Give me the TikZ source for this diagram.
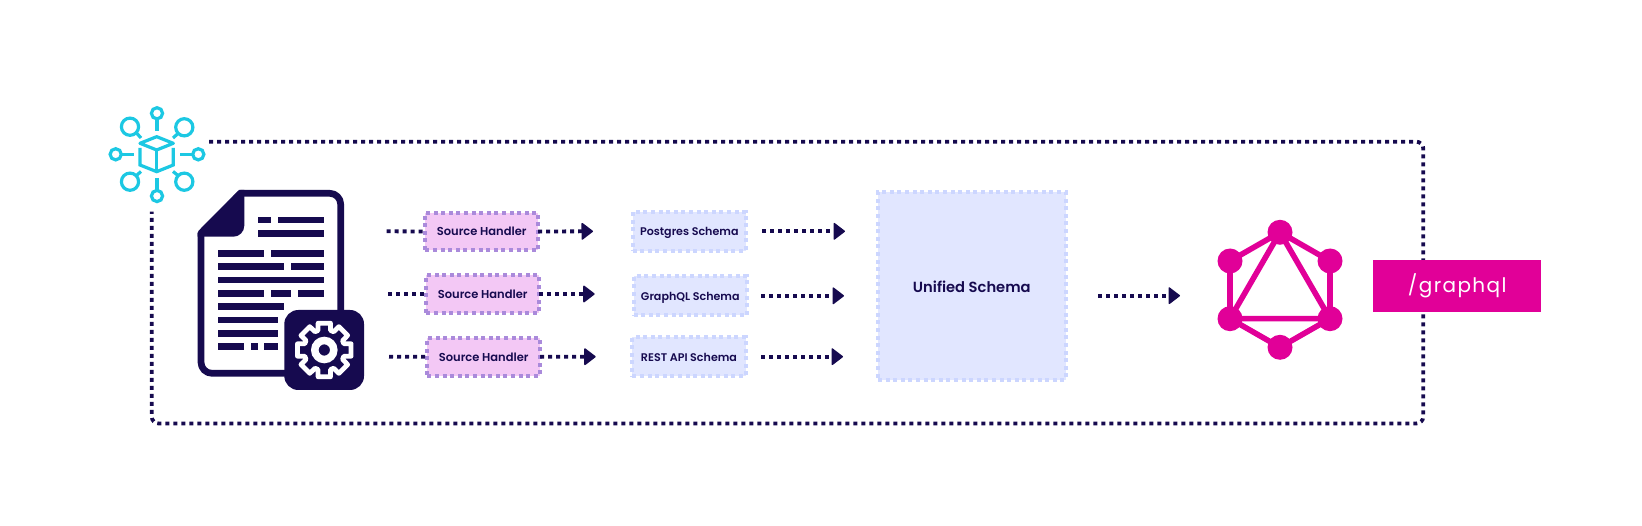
\documentclass[tikz,border=0pt]{standalone}
\usepackage{fontspec}
\setmainfont{Poppins}[BoldFont={Poppins SemiBold}]
\usetikzlibrary{arrows.meta}
\definecolor{ink}{HTML}{160A4F}
\definecolor{cyanic}{HTML}{1CC8E3}
\definecolor{magent}{HTML}{E10098}
\definecolor{pinkfill}{HTML}{F3C8F5}
\definecolor{pinkedge}{HTML}{AA8ADB}
\definecolor{bluefill}{HTML}{E1E6FF}
\definecolor{blueedge}{HTML}{CCD6FF}
\tikzset{
  dots/.style={draw=ink,line width=3.8pt,dash pattern=on 4pt off 4pt},
  flow/.style={dots,-{Triangle[length=12pt,width=18pt,round,line width=1.5pt]}},
  handler/.style={draw=pinkedge,fill=pinkfill,line width=4pt,dash pattern=on 4pt off 3.6pt,minimum width=112.7pt,minimum height=37.6pt,inner sep=0pt,outer sep=0pt,font=\fontsize{11.5pt}{14pt}\selectfont\bfseries,text=ink,text height=9pt,text depth=0pt},
  schemabox/.style={draw=blueedge,fill=bluefill,line width=4pt,dash pattern=on 4pt off 3.6pt,minimum width=113.3pt,minimum height=39pt,inner sep=0pt,outer sep=0pt,font=\fontsize{11.1pt}{14pt}\selectfont\bfseries,text=ink,text height=9pt,text depth=0pt},
  cyanline/.style={draw=cyanic,line width=3.2pt},
}
\newcommand{\docrow}[3]{\fill[ink] ({#1},{#2-3.33}) rectangle ({#3},{#2+3.33});}
\begin{document}
\begin{tikzpicture}[x=1pt,y=-1pt]
\useasboundingbox (0,0) rectangle (1642,526);
\fill[white] (0,0) rectangle (1642,526);
% outer dotted frame
\coordinate (frameStart) at (209,141.7);
\coordinate (frameNE) at (1423.3,141.7);
\coordinate (frameSE) at (1423.3,423.5);
\coordinate (frameSW) at (151.7,423.5);
\coordinate (frameEnd) at (151.7,211.7);
\draw[dots,rounded corners=7pt] (frameStart) -- (frameNE) -- (frameSE) -- (frameSW) -- (frameEnd);
% cyan icon
\begin{scope}[cyanline]
\draw (157,113.3) circle (5.6);
\draw (115.7,154.3) circle (5.6);
\draw (198.3,154.3) circle (5.6);
\draw (157,196) circle (5.6);
\draw (130,126.7) circle (8.6);
\draw (184.3,127.3) circle (8.6);
\draw (130,181.7) circle (8.6);
\draw (184.3,181.7) circle (8.6);
\draw (157,119) -- (157,131);
\draw (157,178) -- (157,190);
\draw (121.5,154.3) -- (134,154.3);
\draw (180,154.3) -- (192.5,154.3);
\draw (136.5,133) -- (141,138);
\draw (178,133.5) -- (173,138);
\draw (136.5,175.5) -- (141,171.5);
\draw (178,175.5) -- (173,171.5);
\draw[line join=round] (140,143.3) -- (156.7,136.7) -- (173.3,143.3) -- (156.7,150) -- cycle;
\draw (156.7,150) -- (156.7,171.7);
\draw (140,148) -- (140,165) -- (156.7,171.7) -- (173.3,165) -- (173.3,148);
\end{scope}
% document
\draw[ink,line width=6.7pt,line join=round,fill=white]
  (201,233) -- (240.5,193.3) [rounded corners=11pt] -- (340.7,193.3) -- (340.7,373.3) -- (201,373.3) -- (201,300) [sharp corners] -- cycle;
\fill[ink] (197.7,233) -- (239,190) -- (244.3,190) [rounded corners=11pt] -- (244.3,236.7) [sharp corners] -- (197.7,236.7) -- cycle;
\docrow{257.7}{220}{271}\docrow{277.7}{220}{324.3}
\docrow{257.7}{233.3}{324.3}
\docrow{217.7}{253.3}{264.3}\docrow{271}{253.3}{324.3}
\docrow{217.7}{266.7}{284.3}\docrow{291}{266.7}{324.3}
\docrow{217.7}{280}{324.3}
\docrow{217.7}{293.3}{264.3}\docrow{271}{293.3}{291}\docrow{297.7}{293.3}{324.3}
\docrow{217.7}{306.7}{284.3}
\docrow{217.7}{320}{277.7}
\docrow{217.7}{333.3}{277.7}
\docrow{217.7}{346.7}{244.3}\docrow{251}{346.7}{257.7}\docrow{264.3}{346.7}{277.7}
% badge
\fill[ink,rounded corners=14pt] (284.3,310) rectangle (364,390);
\begin{scope}[shift={(324.3,350)}]
\draw[white,line width=4.8pt,line join=round]
 (90-13:27.5) -- (90+13:27.5) -- (90+18:20.5)
 -- (135-18:20.5) -- (135-13:27.5) -- (135+13:27.5) -- (135+18:20.5)
 -- (180-18:20.5) -- (180-13:27.5) -- (180+13:27.5) -- (180+18:20.5)
 -- (225-18:20.5) -- (225-13:27.5) -- (225+13:27.5) -- (225+18:20.5)
 -- (270-18:20.5) -- (270-13:27.5) -- (270+13:27.5) -- (270+18:20.5)
 -- (315-18:20.5) -- (315-13:27.5) -- (315+13:27.5) -- (315+18:20.5)
 -- (360-18:20.5) -- (360-13:27.5) -- (360+13:27.5) -- (360+18:20.5)
 -- (45-18:20.5) -- (45-13:27.5) -- (45+13:27.5) -- (45+18:20.5)
 -- (90-18:20.5) -- cycle;
\draw[white,line width=7.5pt] (0,0) circle (9.5);
\end{scope}
% handlers
\node[handler] (h1) at (481.7,231.5) {Source Handler};
\node[handler] (h2) at (482.7,294) {Source Handler};
\node[handler] (h3) at (483.7,356.8) {Source Handler};
\node[schemabox] (s1) at (689.3,231.3) {Postgres Schema};
\node[schemabox] (s2) at (690.3,296) {GraphQL Schema};
\node[schemabox] (s3) at (689,356.7) {REST API Schema};
\node[schemabox,minimum width=187.7pt,minimum height=187.7pt,font=\fontsize{14.7pt}{18pt}\selectfont\bfseries,text height=14pt] (u) at (971.8,285.8) {Unified Schema};
% connectors
\coordinate (a1) at (386.7,231.3);\coordinate (a2) at (388,294);\coordinate (a3) at (389,356.7);
\coordinate (b1) at (593,231.3);\coordinate (b2) at (594.7,294);\coordinate (b3) at (595.7,356.7);
\coordinate (c1a) at (762,231.3);\coordinate (c1b) at (845,231.3);
\coordinate (c2a) at (761,295.8);\coordinate (c2b) at (844,295.8);
\coordinate (c3a) at (761,356.7);\coordinate (c3b) at (843,356.7);
\coordinate (d1) at (1098,295.7);\coordinate (d2) at (1180,295.7);
\foreach \i in {1,2,3}{
  \draw[dots] (a\i) -- (h\i.west);
  \draw[flow] (h\i.east) -- (b\i);
}
\draw[flow] (c1a) -- (c1b);
\draw[flow] (c2a) -- (c2b);
\draw[flow] (c3a) -- (c3b);
\draw[flow] (d1) -- (d2);
% GraphQL logo
\begin{scope}[magent,line width=5.6pt,line join=round]
\draw (1280,232.3) -- (1330,261) -- (1330,318.7) -- (1280,347.3) -- (1230,318.7) -- (1230,261) -- cycle;
\draw (1280,232.3) -- (1330,318.7) -- (1230,318.7) -- cycle;
\foreach \q in {{1280,232.3},{1330,261},{1330,318.7},{1280,347.3},{1230,318.7},{1230,261}}{
  \fill (\q) circle (12.5);
}
\end{scope}
\node[fill=magent,text=white,minimum width=167.7pt,minimum height=52.6pt,inner sep=0pt,outer sep=0pt,font=\fontsize{20pt}{24pt}\selectfont\addfontfeatures{LetterSpace=7},text height=14pt,text depth=0pt] (gql) at (1457.2,286) {/graphql};
\end{tikzpicture}
\end{document}
